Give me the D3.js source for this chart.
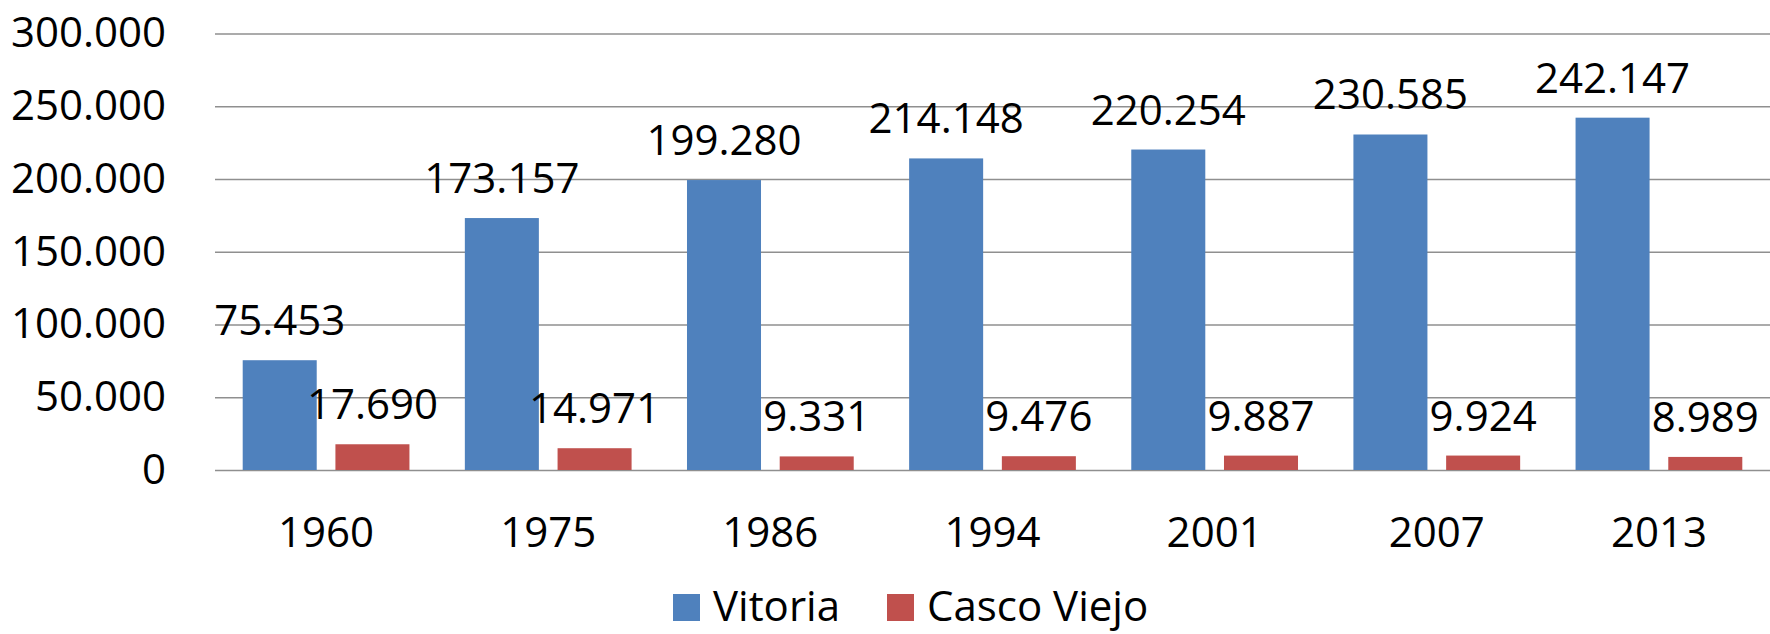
<!DOCTYPE html>
<html>
<head>
<meta charset="utf-8">
<script src="https://cdn.jsdelivr.net/npm/d3@7"></script>
<style>
  html, body { margin: 0; padding: 0; background: #ffffff; }
  svg { display: block; font-family: "Open Sans", "Noto Sans", sans-serif; }
</style>
</head>
<body>
<svg id="chart" width="1770" height="634"></svg>
<script>
// Population of Vitoria and its old town (Casco Viejo) by census year
const years = ["1960", "1975", "1986", "1994", "2001", "2007", "2013"];
const seriesNames = ["Vitoria", "Casco Viejo"];
const vitoria = [75453, 173157, 199280, 214148, 220254, 230585, 242147];
const cascoViejo = [17690, 14971, 9331, 9476, 9887, 9924, 8989];
const yTicks = [0, 50000, 100000, 150000, 200000, 250000, 300000];
const colors = ["#4F81BD", "#C0504D"];

const svg = d3.select("#chart");
const width = 1770;
const margin = { left: 215, right: 0, top: 33.5, bottom: 164 };
const plotBottom = 470;
const fontSize = 42;

// Spanish number format: dot as thousands separator
const es = d3.formatLocale({ decimal: ",", thousands: ".", grouping: [3], currency: ["", " €"] });
const fmt = es.format(",d");

const x0 = d3.scaleBand().domain(years).range([margin.left, width - margin.right]).padding(0);
const edge = x0.bandwidth() * 0.1247;
const x1 = d3.scaleBand().domain(seriesNames)
  .range([edge, x0.bandwidth() - edge])
  .paddingInner(0.2017).paddingOuter(0);
const y = d3.scaleLinear().domain([0, 300000]).range([plotBottom, margin.top]);

// Horizontal gridlines with y tick labels
const yAxis = d3.axisLeft(y)
  .tickValues(yTicks)
  .tickFormat(d => fmt(d))
  .tickSizeInner(-(width - margin.left - margin.right))
  .tickSizeOuter(0)
  .tickPadding(49);

const gy = svg.append("g")
  .attr("transform", `translate(${margin.left},0)`)
  .call(yAxis);
gy.select(".domain").remove();
gy.selectAll(".tick line").attr("stroke", "#8f8f8f").attr("stroke-width", 1.7);
gy.selectAll(".tick text")
  .attr("fill", "#000")
  .attr("font-size", fontSize)
  .attr("font-family", "'Open Sans', sans-serif");

// Category axis labels
const xAxis = d3.axisBottom(x0).tickSize(0).tickPadding(47);
const gx = svg.append("g")
  .attr("transform", `translate(0,${plotBottom})`)
  .call(xAxis);
gx.select(".domain").remove();
gx.selectAll(".tick text")
  .attr("fill", "#000")
  .attr("font-size", fontSize)
  .attr("font-family", "'Open Sans', sans-serif");

// Grouped bars
const rows = years.map((yr, i) => ({ year: yr, values: [vitoria[i], cascoViejo[i]] }));

const groups = svg.append("g").selectAll("g")
  .data(rows)
  .join("g")
  .attr("transform", d => `translate(${x0(d.year)},0)`);

groups.selectAll("rect")
  .data(d => d.values.map((v, k) => ({ name: seriesNames[k], value: v, k })))
  .join("rect")
  .attr("x", d => x1(d.name))
  .attr("width", x1.bandwidth())
  .attr("y", d => y(d.value))
  .attr("height", d => plotBottom - y(d.value))
  .attr("fill", d => colors[d.k]);

// Value labels above each bar
groups.selectAll("text")
  .data(d => d.values.map((v, k) => ({ name: seriesNames[k], value: v, k })))
  .join("text")
  .attr("x", d => x1(d.name) + x1.bandwidth() / 2)
  .attr("y", d => y(d.value) - 25)
  .attr("text-anchor", "middle")
  .attr("font-size", fontSize)
  .attr("fill", "#000")
  .text(d => fmt(d.value));

// Legend
const legendItems = [
  { name: seriesNames[0], color: colors[0], x: 673 },
  { name: seriesNames[1], color: colors[1], x: 887 }
];
const legendBaseline = 621;
const legend = svg.append("g");
legendItems.forEach(item => {
  legend.append("rect")
    .attr("x", item.x).attr("y", legendBaseline - 27)
    .attr("width", 27).attr("height", 27)
    .attr("fill", item.color);
  legend.append("text")
    .attr("x", item.x + 40).attr("y", legendBaseline)
    .attr("font-size", fontSize)
    .attr("fill", "#000")
    .text(item.name);
});
</script>
</body>
</html>
